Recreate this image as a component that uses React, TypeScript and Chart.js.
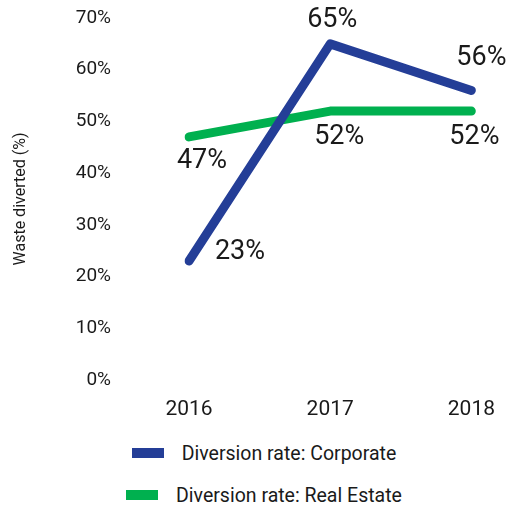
import React, { useEffect, useRef } from "react";
import { Chart, registerables } from "chart.js";

Chart.register(...registerables);

const categories = ["2016", "2017", "2018"];
const corporate = [23, 65, 56];
const realEstate = [47, 52, 52];
const seriesNames = ["Diversion rate: Corporate", "Diversion rate: Real Estate"];
const seriesColors = ["#243E97", "#00B04F"];
const yTicks = [0, 10, 20, 30, 40, 50, 60, 70];
const yTitle = "Waste diverted (%)";

// label offsets (dx, dy) relative to each point, per series
const labelOffsets = [
  [[51, -9], [2, -24], [10, -32]],
  [[13, 24], [9, 26], [3, 26]],
];

const FONT = "Roboto, 'Noto Sans', sans-serif";

const labelPlugin = {
  id: "pointLabels",
  afterDatasetsDraw(chart: any) {
    const ctx = chart.ctx;
    ctx.save();
    ctx.font = `27px ${FONT}`;
    ctx.fillStyle = "#1a1a1a";
    ctx.textAlign = "center";
    ctx.textBaseline = "middle";
    chart.data.datasets.forEach((ds: any, di: number) => {
      const meta = chart.getDatasetMeta(di);
      meta.data.forEach((pt: any, i: number) => {
        const [dx, dy] = labelOffsets[di][i];
        ctx.fillText(ds.data[i] + "%", pt.x + dx, pt.y + dy);
      });
    });
    ctx.restore();
  },
};

export default function App() {
  const ref = useRef<HTMLCanvasElement>(null);
  useEffect(() => {
    if (!ref.current) return;
    const chart = new Chart(ref.current, {
      type: "line",
      data: {
        labels: categories,
        datasets: [corporate, realEstate].map((d, i) => ({
          label: seriesNames[i],
          data: d,
          borderColor: seriesColors[i],
          backgroundColor: seriesColors[i],
          borderWidth: 9,
          borderCapStyle: "round",
          borderJoinStyle: "round",
          pointRadius: 0,
          tension: 0,
          fill: false,
        })),
      },
      options: {
        animation: false,
        responsive: false,
        maintainAspectRatio: false,
        layout: { padding: { top: 18, right: 40, bottom: 0, left: 0 } },
        plugins: { legend: { display: false }, tooltip: { enabled: false } },
        scales: {
          x: {
            offset: false,
            grid: { display: false, drawTicks: false },
            border: { display: false },
            ticks: {
              font: { family: FONT, size: 21 },
              color: "#1a1a1a",
              padding: 17,
            },
            afterFit: (s: any) => {
              s.height = 50;
            },
          },
          y: {
            min: yTicks[0],
            max: yTicks[yTicks.length - 1],
            grid: {
              display: true,
              drawOnChartArea: false,
              drawTicks: true,
              tickLength: 78,
              color: "rgba(0,0,0,0)",
            },
            border: { display: false },
            afterBuildTicks: (s: any) => {
              s.ticks = yTicks.map((v) => ({ value: v }));
            },
            ticks: {
              font: { family: FONT, size: 19 },
              color: "#1a1a1a",
              padding: 0,
              callback: (v: any) => v + "%",
            },
            title: {
              display: true,
              text: yTitle,
              font: { family: FONT, size: 16 },
              color: "#1a1a1a",
              padding: { top: 11, bottom: 0 },
            },
            afterFit: (s: any) => {
              s.width = 189;
            },
          },
        },
      },
      plugins: [labelPlugin],
    } as any);
    return () => chart.destroy();
  }, []);

  return (
    <div style={{ position: "absolute", left: 0, top: 0, width: 512, height: 508, background: "#fff" }}>
      <canvas ref={ref} width={512} height={430} style={{ position: "absolute", left: 0, top: 0 }} />
      <div style={{ position: "absolute", left: 8, top: 432, width: 512 }}>
        {seriesNames.map((n, i) => (
          <div
            key={n}
            style={{
              height: 42,
              display: "flex",
              alignItems: "center",
              justifyContent: "center",
              fontFamily: FONT,
              fontSize: 19.5,
              color: "#1a1a1a",
            }}
          >
            <span style={{ display: "inline-block", width: 32, height: 10, background: seriesColors[i], marginRight: 18 }} />
            <span>{n}</span>
          </div>
        ))}
      </div>
    </div>
  );
}
